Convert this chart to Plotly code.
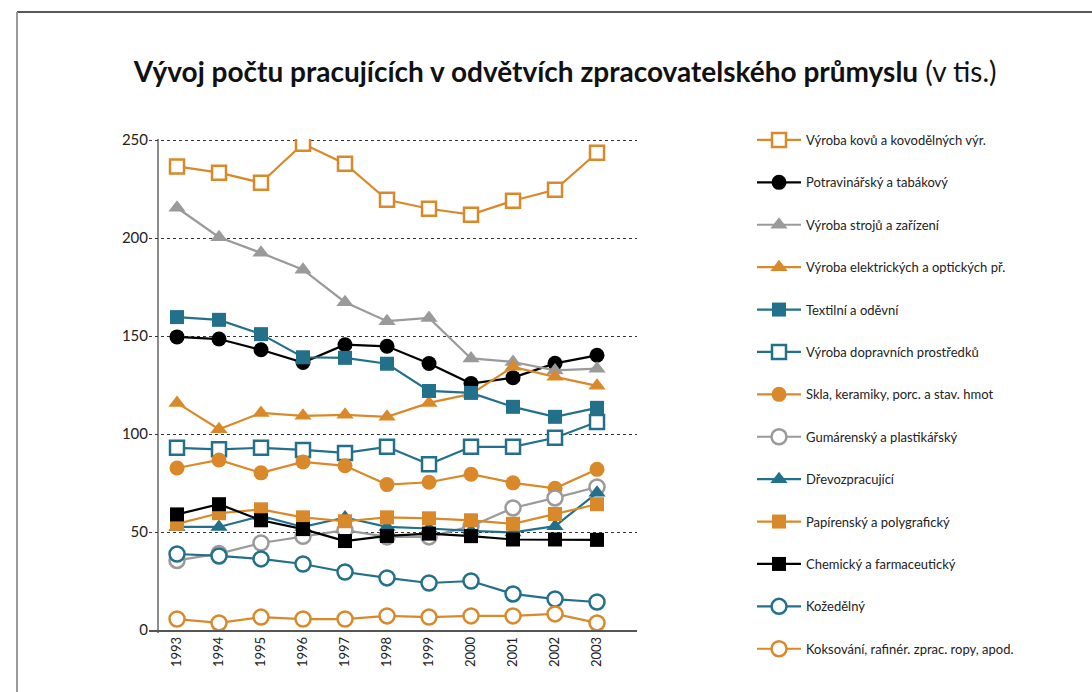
import plotly.graph_objects as go

years = [1993, 1994, 1995, 1996, 1997, 1998, 1999, 2000, 2001, 2002, 2003]

kovu = [236.6, 233.4, 228.3, 248.2, 238.0, 219.6, 215.0, 212.0, 219.1, 224.7, 243.6]
potravinarsky = [149.6, 148.5, 143.0, 136.5, 145.6, 144.8, 136.0, 125.8, 128.8, 136.1, 140.2]
stroju = [215.5, 200.5, 192.5, 183.9, 167.3, 157.6, 159.3, 138.6, 136.8, 132.5, 133.4]
elektrickych = [115.9, 102.5, 110.8, 109.3, 109.8, 108.8, 115.9, 120.5, 134.3, 129.2, 124.6]
textilni = [159.7, 158.3, 151.0, 139.2, 138.9, 135.9, 122.0, 121.0, 113.9, 108.8, 113.4]
dopravnich = [93.0, 92.2, 93.0, 91.9, 90.4, 93.5, 84.6, 93.5, 93.5, 98.1, 106.2]
skla = [82.7, 86.8, 80.2, 85.8, 83.8, 74.2, 75.4, 79.5, 75.1, 72.3, 82.0]
gumarensky = [35.5, 39.0, 44.4, 47.8, 51.0, 47.5, 47.5, 53.0, 62.3, 67.4, 73.0]
drevozpracujici = [52.6, 52.6, 58.2, 52.6, 57.4, 52.6, 51.8, 50.6, 49.8, 53.0, 70.0]
papirensky = [54.2, 59.6, 61.6, 57.5, 55.5, 57.5, 57.0, 56.0, 54.2, 59.2, 64.2]
chemicky = [59.0, 64.2, 56.0, 51.5, 45.4, 48.0, 49.2, 47.9, 46.2, 46.2, 46.0]
kozedelny = [38.8, 37.8, 36.3, 33.7, 29.6, 26.6, 24.0, 25.0, 18.4, 15.8, 14.3]
koksovani = [5.6, 3.6, 6.6, 5.6, 5.6, 7.2, 6.6, 7.2, 7.2, 8.2, 3.6]

names = [
    "Výroba kovů a kovodělných výr.",
    "Potravinářský a tabákový",
    "Výroba strojů a zařízení",
    "Výroba elektrických a optických př.",
    "Textilní a oděvní",
    "Výroba dopravních prostředků",
    "Skla, keramiky, porc. a stav. hmot",
    "Gumárenský a plastikářský",
    "Dřevozpracující",
    "Papírenský a polygrafický",
    "Chemický a farmaceutický",
    "Kožedělný",
    "Koksování, rafinér. zprac. ropy, apod.",
]
series = [kovu, potravinarsky, stroju, elektrickych, textilni, dopravnich, skla,
          gumarensky, drevozpracujici, papirensky, chemicky, kozedelny, koksovani]

ORANGE = "#D9892A"
TEAL = "#23708A"
GRAY = "#9A9A9A"
BLACK = "#000000"
colors = [ORANGE, BLACK, GRAY, ORANGE, TEAL, TEAL, ORANGE, GRAY, TEAL, ORANGE, BLACK, TEAL, ORANGE]
symbols = ["square-open", "circle", "triangle-up", "triangle-up", "square", "square-open", "circle",
           "circle-open", "triangle-up", "square", "square", "circle-open", "circle-open"]

FONT = "Lato"
W, H = 1092, 692
ML, MR, MT, MB = 149, 455, 139, 62
PW, PH = W - ML - MR, H - MT - MB

fig = go.Figure()
for name, vals, col, sym in zip(names, series, colors, symbols):
    is_open = sym.endswith("open")
    marker = dict(symbol=sym, color=col, size=14 if "square" in sym else 15,
                  line=dict(width=2.5 if is_open else 0, color=col))
    if is_open:
        marker["symbol"] = sym.replace("-open", "")
        marker["color"] = "white"
    fig.add_trace(go.Scatter(
        x=years, y=vals, name=name, mode="lines+markers",
        line=dict(color=col, width=2.2),
        marker=marker, legendgroup=name,
    ))

def px_x(p):
    return (p - ML) / PW

def px_y(p):
    return (H - MB - p) / PH

shapes = [
    dict(type="line", xref="paper", yref="paper", x0=px_x(158), x1=px_x(158),
         y0=px_y(633), y1=px_y(139), line=dict(color="#8c8c8c", width=2), layer="below"),
    dict(type="line", xref="paper", yref="paper", x0=px_x(17), x1=px_x(1092),
         y0=px_y(12), y1=px_y(12), line=dict(color="#222222", width=1.5)),
    dict(type="line", xref="paper", yref="paper", x0=px_x(17), x1=px_x(17),
         y0=px_y(12), y1=px_y(692), line=dict(color="#999999", width=2)),
]

fig.update_layout(
    width=W, height=H,
    margin=dict(l=ML, r=MR, t=MT, b=MB),
    paper_bgcolor="white", plot_bgcolor="white",
    font=dict(family=FONT, color="#222222"),
    title=dict(
        text="<b>Vývoj počtu pracujících v odvětvích zpracovatelského průmyslu</b> (v tis.)",
        x=0.5175, xanchor="center", y=1 - 72 / H, yanchor="middle",
        font=dict(family=FONT, size=28, color="#111111"),
    ),
    xaxis=dict(
        range=[1992.333, 2003.952], tickmode="array", tickvals=years,
        ticktext=[str(y) for y in years], tickangle=-90,
        showgrid=False, zeroline=False, showline=True, linecolor="#555555", linewidth=1.5,
        ticks="", tickfont=dict(size=13, family=FONT, color="#222222"),
    ),
    yaxis=dict(
        range=[0, 250.6], tickvals=[0, 50, 100, 150, 200, 250],
        showgrid=True, gridcolor="#333333", griddash="dot", gridwidth=1,
        zeroline=False, showline=False, ticks="",
        tickfont=dict(size=15, family=FONT, color="#222222"),
    ),
    legend=dict(
        x=px_x(752), xanchor="left", y=px_y(125), yanchor="top",
        font=dict(size=13, family=FONT, color="#222222"),
        tracegroupgap=22.5, itemwidth=44, bgcolor="rgba(0,0,0,0)",
        maxheight=700,
    ),
    shapes=shapes,
    showlegend=True,
)

fig.write_html("out.html", config={"displayModeBar": False},
               post_script="document.body.style.margin='0px';")
